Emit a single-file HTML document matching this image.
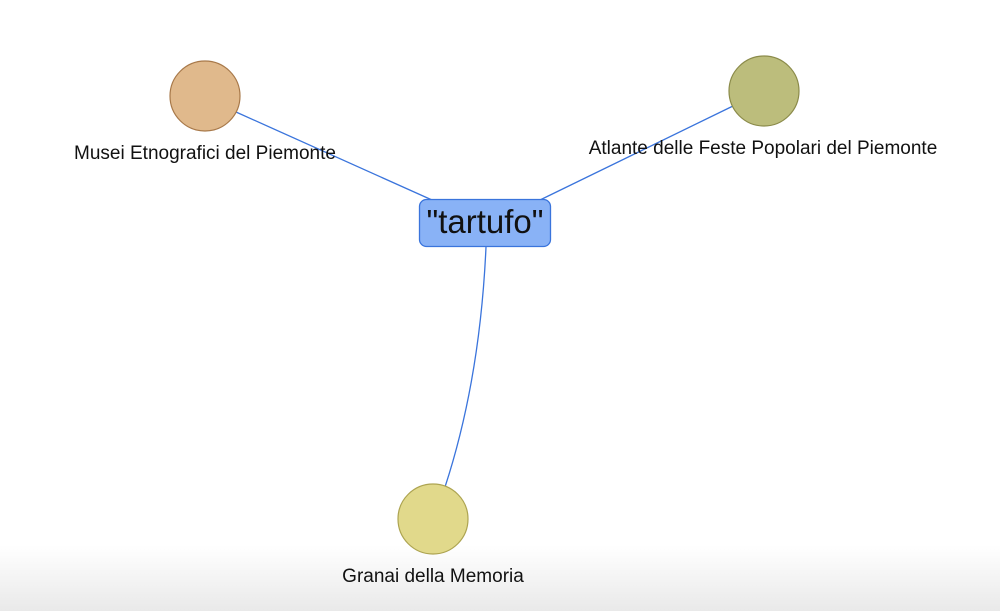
<!DOCTYPE html>
<html><head><meta charset="utf-8"><style>
html,body{margin:0;padding:0;width:1000px;height:611px;overflow:hidden;background:#fff;}
.bg{position:absolute;left:0;top:545px;width:1000px;height:66px;background:linear-gradient(#fff,#e9e9e9);}
svg{position:absolute;left:0;top:0;}
text{font-family:"Liberation Sans",Arial,sans-serif;fill:#111;}
</style></head><body>
<div class="bg"></div>
<svg width="1000" height="611">
<g stroke="#3a74dc" stroke-width="1.3" fill="none">
<line x1="236" y1="112" x2="432" y2="200"/>
<line x1="733" y1="106" x2="540" y2="200"/>
<path d="M486 247 Q480 380 445 487"/>
</g>
<circle cx="205" cy="96" r="35" fill="#e0b98c" stroke="#a8794a" stroke-width="1.2"/>
<circle cx="764" cy="91" r="35" fill="#bcbd7c" stroke="#8b8b4a" stroke-width="1.2"/>
<circle cx="433" cy="519" r="35" fill="#e1d98b" stroke="#ada451" stroke-width="1.2"/>
<rect x="419.5" y="199.5" width="131" height="47" rx="7" fill="#89b2f6" stroke="#3a74dc" stroke-width="1.3"/>
<text x="485" y="233" font-size="33" text-anchor="middle">"tartufo"</text>
<text x="205" y="159" font-size="19" text-anchor="middle">Musei Etnografici del Piemonte</text>
<text x="763" y="154" font-size="19" text-anchor="middle">Atlante delle Feste Popolari del Piemonte</text>
<text x="433" y="582" font-size="19" text-anchor="middle">Granai della Memoria</text>
</svg>
</body></html>
